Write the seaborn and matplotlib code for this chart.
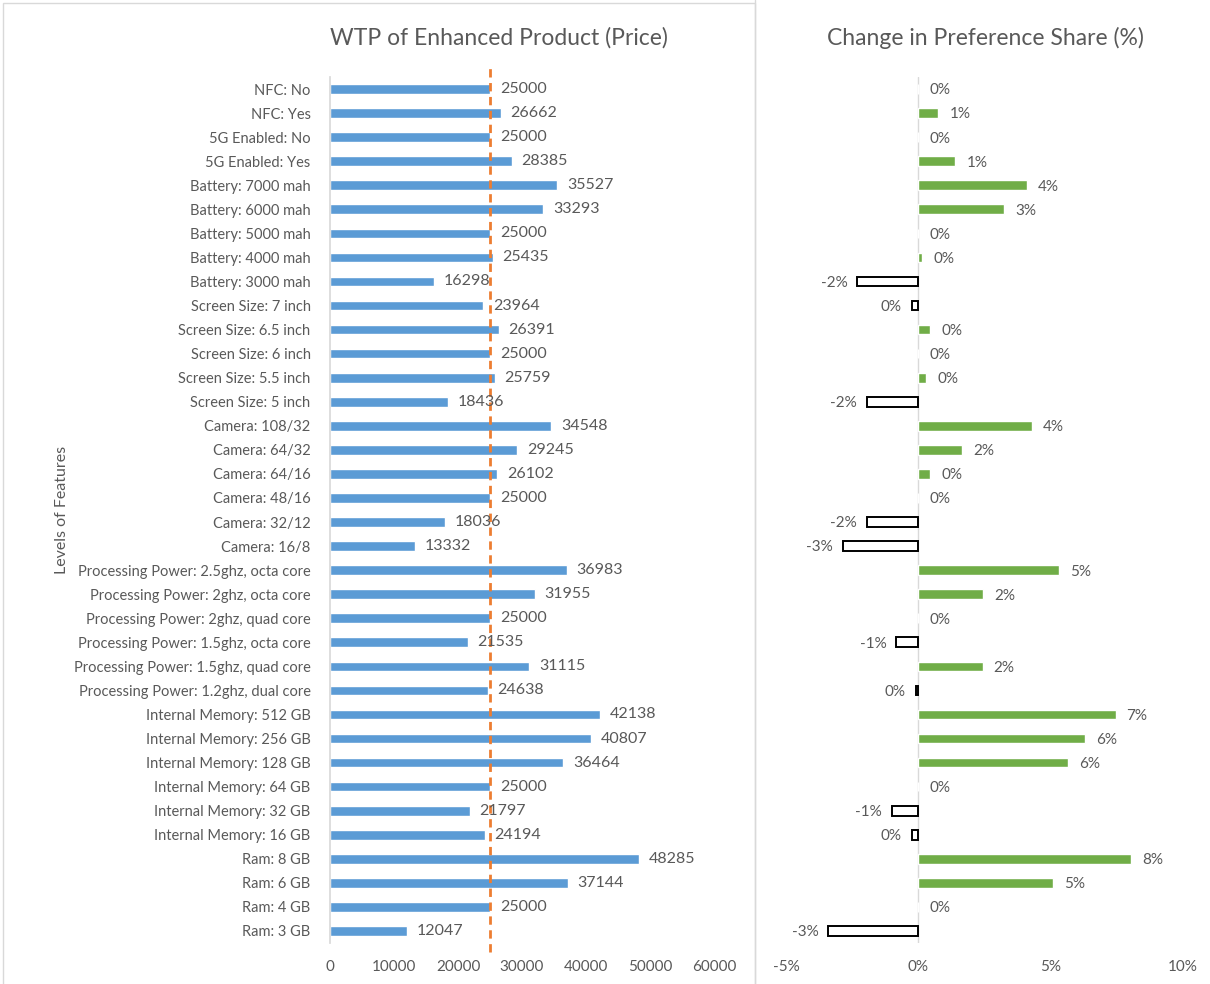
import matplotlib
matplotlib.use("Agg")
import matplotlib.pyplot as plt
import seaborn as sns
import pandas as pd
from matplotlib.patches import Rectangle
from matplotlib.lines import Line2D

features = [
    "NFC: No", "NFC: Yes", "5G Enabled: No", "5G Enabled: Yes",
    "Battery: 7000 mah", "Battery: 6000 mah", "Battery: 5000 mah", "Battery: 4000 mah", "Battery: 3000 mah",
    "Screen Size: 7 inch", "Screen Size: 6.5 inch", "Screen Size: 6 inch", "Screen Size: 5.5 inch", "Screen Size: 5 inch",
    "Camera: 108/32", "Camera: 64/32", "Camera: 64/16", "Camera: 48/16", "Camera: 32/12", "Camera: 16/8",
    "Processing Power: 2.5ghz, octa core", "Processing Power: 2ghz, octa core", "Processing Power: 2ghz, quad core",
    "Processing Power: 1.5ghz, octa core", "Processing Power: 1.5ghz, quad core", "Processing Power: 1.2ghz, dual core",
    "Internal Memory: 512 GB", "Internal Memory: 256 GB", "Internal Memory: 128 GB", "Internal Memory: 64 GB",
    "Internal Memory: 32 GB", "Internal Memory: 16 GB",
    "Ram: 8 GB", "Ram: 6 GB", "Ram: 4 GB", "Ram: 3 GB",
]
wtp = [
    25000, 26662, 25000, 28385,
    35527, 33293, 25000, 25435, 16298,
    23964, 26391, 25000, 25759, 18436,
    34548, 29245, 26102, 25000, 18036, 13332,
    36983, 31955, 25000, 21535, 31115, 24638,
    42138, 40807, 36464, 25000, 21797, 24194,
    48285, 37144, 25000, 12047,
]
share_change = [
    0.0, 0.75, 0.0, 1.4,
    4.1, 3.25, 0.0, 0.15, -2.3,
    -0.25, 0.45, 0.0, 0.3, -1.95,
    4.3, 1.65, 0.45, 0.0, -1.95, -2.85,
    5.3, 2.45, 0.0, -0.83, 2.43, -0.1,
    7.45, 6.3, 5.65, 0.0, -1.0, -0.25,
    8.05, 5.1, 0.0, -3.4,
]
base_price = 25000

blue = "#5B9BD5"
green = "#70AD47"
orange = "#ED7D31"
txt = "#595959"
grid = "#D9D9D9"

sns.set_theme(style="white")
plt.rcParams["font.family"] = ["Lato", "DejaVu Sans"]

df = pd.DataFrame({"feature": features, "wtp": wtp, "share": share_change})
df["sign"] = ["neg" if v < 0 else "pos" for v in df["share"]]

fig = plt.figure(figsize=(12.1, 9.84), dpi=100)

# left panel: WTP
ax1 = fig.add_axes([330 / 1210, 1 - 943 / 984, 384 / 1210, 866 / 984])
sns.barplot(data=df, x="wtp", y="feature", color=blue, width=0.4, saturation=1, ax=ax1)
ax1.axvline(base_price, color=orange, ls=(0, (3, 2)), lw=2, ymin=-0.01, ymax=1.01, clip_on=False, zorder=3)
ax1.bar_label(ax1.containers[0], labels=[str(v) for v in wtp], padding=7, fontsize=11.5, color=txt)
ax1.set_xlim(0, 60000)
ax1.set_xticks(range(0, 60001, 10000))
ax1.set_xlabel("")
ax1.set_ylabel("Levels of Features", fontsize=11.5, color=txt)
ax1.yaxis.set_label_coords(-0.68, 0.5)
ax1.tick_params(axis="both", length=0, labelsize=10.5, labelcolor=txt)
ax1.tick_params(axis="x", pad=12, labelsize=11)
ax1.tick_params(axis="y", pad=14)
for s in ["top", "right", "bottom"]:
    ax1.spines[s].set_visible(False)
ax1.spines["left"].set_color(grid)

# right panel: change in preference share
ax2 = fig.add_axes([786 / 1210, 1 - 943 / 984, 397 / 1210, 866 / 984])
sns.barplot(data=df, x="share", y="feature", hue="sign", palette={"pos": green, "neg": "white"},
            dodge=False, width=0.4, saturation=1, legend=False, ax=ax2)
ax2.axvline(0, color=grid, lw=1, zorder=0)
for i, v in enumerate(share_change):
    if v < 0:
        for p in ax2.patches:
            if abs(p.get_y() + p.get_height() / 2 - i) < 0.01 and p.get_width() < 0:
                p.set_edgecolor("black")
                p.set_linewidth(1.4)
    lab = f"{abs(round(v)):.0f}%" if round(v) == 0 else f"{round(v):.0f}%"
    if v < 0:
        ax2.annotate(lab, (v, i), xytext=(-7, -1), textcoords="offset points",
                     ha="right", va="center", fontsize=11, color=txt)
    else:
        ax2.annotate(lab, (v, i), xytext=(8, -1), textcoords="offset points",
                     ha="left", va="center", fontsize=11, color=txt)
ax2.set_xlim(-5, 10)
ax2.set_xticks([-5, 0, 5, 10])
ax2.set_xticklabels(["-5%", "0%", "5%", "10%"])
ax2.set_yticks([])
ax2.set_xlabel("")
ax2.set_ylabel("")
ax2.tick_params(axis="x", length=0, labelsize=11, labelcolor=txt, pad=12)
for s in ax2.spines.values():
    s.set_visible(False)

fig.text(499 / 1210, 1 - 38 / 984, "WTP of Enhanced Product (Price)", ha="center", va="center",
         fontsize=16.5, color=txt)
fig.text(985 / 1210, 1 - 38 / 984, "Change in Preference Share (%)", ha="center", va="center",
         fontsize=16.5, color=txt)

# chart borders
fig.add_artist(Rectangle((3 / 1210, -0.01), 752 / 1210, 1 - 3 / 984 + 0.01, transform=fig.transFigure,
                         fill=False, edgecolor=grid, lw=1))
fig.add_artist(Line2D([755 / 1210, 755 / 1210], [0, 1], transform=fig.transFigure, color=grid, lw=1))

fig.savefig("out.png", dpi=100)
